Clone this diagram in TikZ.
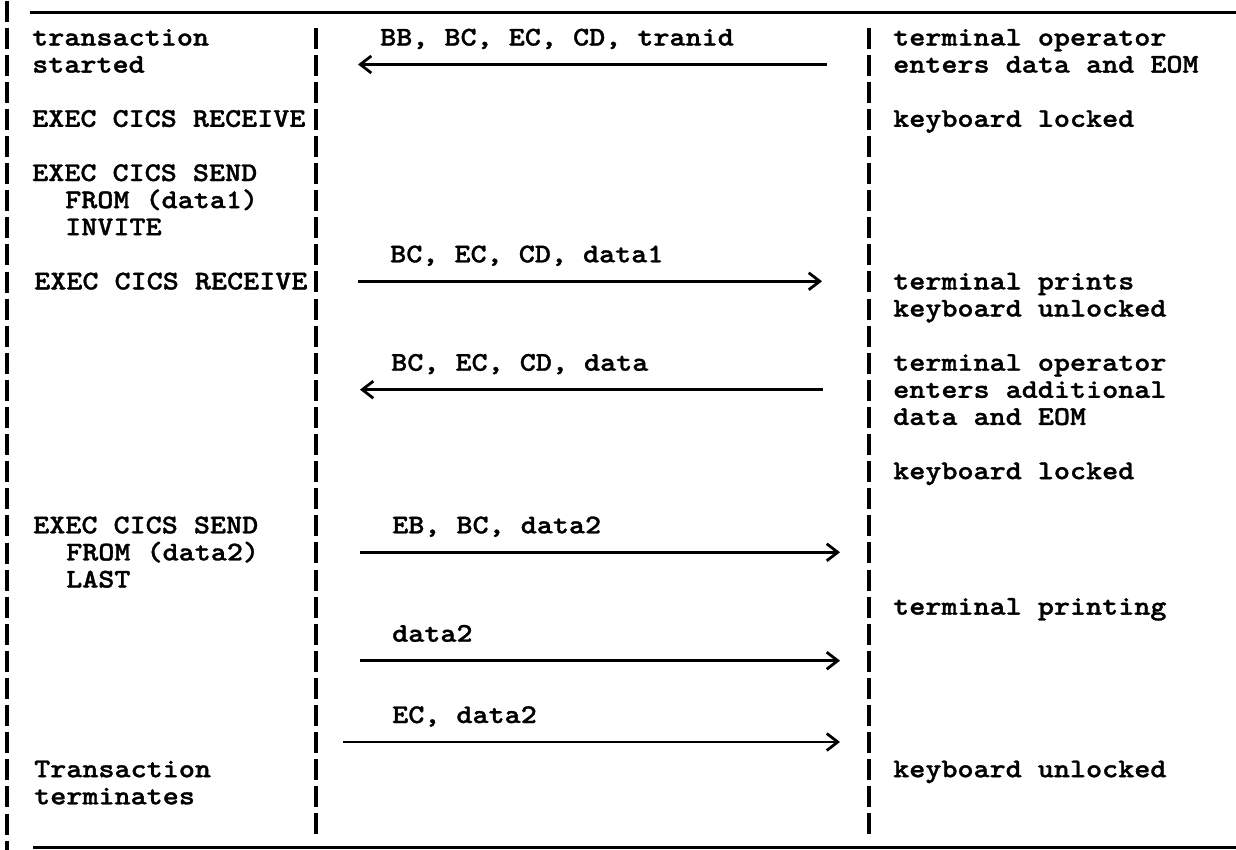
\documentclass[tikz,border=0pt]{standalone}
\usepackage{fontspec}
\newfontfamily\typewriter{lmmonolt10-bold.otf}[FakeStretch=1.134, FakeBold=1.2]
\usetikzlibrary{arrows.meta}

\begin{document}
\begin{tikzpicture}[x=1pt, y=-27.1pt,
  txt/.style={anchor=base west, inner sep=0pt, font=\typewriter\fontsize{27}{27.1}\selectfont},
  rule/.style={line width=3pt},
  lifeline/.style={line width=3.5pt, dash pattern=on 21pt off 6.1pt},
  msg/.style={line width=2.8pt, -{Straight Barb[length=11pt,width=17pt]}}]
\useasboundingbox (0,-0.679) rectangle (1236,30.686);

% frame and the two columns
\coordinate (frametop) at (7,-0.66);
\coordinate (framebot) at (7,30.686);
\coordinate (progtop) at (316,0.336);
\coordinate (progbot) at (316,30.11);
\coordinate (termtop) at (869,0.336);
\coordinate (termbot) at (869,30.11);
\coordinate (ruleAl) at (30,-0.236);
\coordinate (ruleAr) at (1236,-0.236);
\coordinate (ruleBl) at (33,30.576);
\coordinate (ruleBr) at (1236,30.576);
\draw[rule] (ruleAl) -- (ruleAr);
\draw[rule] (ruleBl) -- (ruleBr);
\draw[lifeline] (frametop) -- (framebot);
\draw[lifeline] (progtop) -- (progbot);
\draw[lifeline] (termtop) -- (termbot);

% application program
\foreach \n/\x/\t in {1/32/transaction, 2/32/started, 4/32/EXEC CICS RECEIVE,
    6/32/EXEC CICS SEND, 7/65/FROM (data1), 8/65/INVITE, 10/34/EXEC CICS RECEIVE,
    19/33/EXEC CICS SEND, 20/66/FROM (data2), 21/66/LAST,
    28/34/Transaction, 29/34/terminates}
  \node[txt] (L\n) at (\x,\n) {\t};

% line flows
\foreach \n/\x/\t in {1/380/{BB, BC, EC, CD, tranid}, 9/390/{BC, EC, CD, data1},
    13/391/{BC, EC, CD, data}, 19/392/{EB, BC, data2}, 23/392/data2,
    26/392/{EC, data2}}
  \node[txt] (M\n) at (\x,\n) {\t};

% terminal
\foreach \n/\t in {1/terminal operator, 2/enters data and EOM, 4/keyboard locked,
    10/terminal prints, 11/keyboard unlocked, 13/terminal operator,
    14/enters additional, 15/data and EOM, 17/keyboard locked,
    22/terminal printing, 28/keyboard unlocked}
  \node[txt] (R\n) at (893,\n) {\t};

% arrows
\foreach \n/\xa/\xb in {2/827/358, 10/358/822, 14/823/360, 20/360/840,
    24/360/840, 27/343/840} {
  \coordinate (from\n) at (\xa,\n-0.3);
  \coordinate (to\n) at (\xb,\n-0.3);
  \draw[msg] (from\n) -- (to\n);
}
\end{tikzpicture}
\end{document}
